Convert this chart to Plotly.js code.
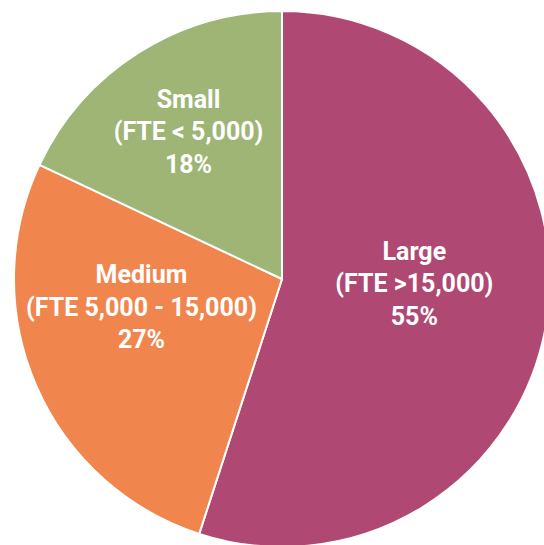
<!DOCTYPE html>
<html>
<head>
<meta charset="utf-8">
<script src="https://cdn.plot.ly/plotly-3.0.1.min.js"></script>
<style>
html,body{margin:0;padding:0;overflow:hidden;background:#fff;}
#chart{width:560px;height:560px;}
</style>
</head>
<body>
<div id="chart"></div>
<script>
const categories = ["Large<br>(FTE >15,000)", "Medium<br>(FTE 5,000 - 15,000)", "Small<br>(FTE < 5,000)"];
const shares = [55, 27, 18];
const colors = ["#AF4974", "#F0854D", "#9EB575"];

const W = 560, H = 560;
const cx = 282, cyTop = 279, r = 268;

// trailing blank lines nudge each label upward within its slice
const pad = ["<br> ", "<br> <br> ", ""];
const templates = pad.map(p => "%{label}<br>%{percent:.0%}" + p);

const trace = {
  type: "pie",
  labels: categories,
  values: shares,
  sort: false,
  direction: "clockwise",
  rotation: 0,
  marker: {colors: colors, line: {color: "#ffffff", width: 2}},
  texttemplate: templates,
  textposition: "inside",
  insidetextorientation: "horizontal",
  textfont: {family: "Roboto, 'Open Sans', sans-serif", size: 25, color: "#ffffff", weight: "bold"},
  hoverinfo: "none",
  showlegend: false,
  domain: {
    x: [(cx - r) / W, (cx + r) / W],
    y: [(H - cyTop - r) / H, (H - cyTop + r) / H]
  }
};

Plotly.newPlot("chart", [trace], {
  width: W, height: H,
  margin: {l: 0, r: 0, t: 0, b: 0},
  paper_bgcolor: "#ffffff",
  showlegend: false,
  uniformtext: {minsize: 25, mode: "show"}
}, {staticPlot: true});
</script>
</body>
</html>
